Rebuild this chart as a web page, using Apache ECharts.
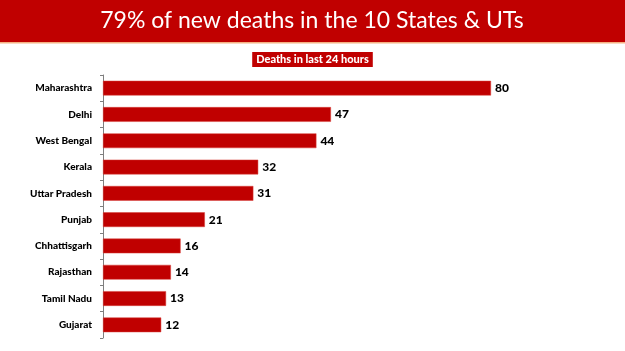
<!DOCTYPE html>
<html lang="en">
<head>
  <meta charset="UTF-8">
  <script src="https://cdn.jsdelivr.net/npm/echarts@6/dist/echarts.min.js"></script>
  <title>Deaths in last 24 hours</title>
  <style>
    html, body { margin: 0; padding: 0; background: #ffffff; }
    #chart { width: 625px; height: 351px; }
  </style>
</head>
<body>
  <div id="chart"></div>
<script>
  // 数据
  const states = ['Maharashtra', 'Delhi', 'West Bengal', 'Kerala', 'Uttar Pradesh',
    'Punjab', 'Chhattisgarh', 'Rajasthan', 'Tamil Nadu', 'Gujarat'];
  const deaths = [80, 47, 44, 32, 31, 21, 16, 14, 13, 12];

  const chart = echarts.init(document.getElementById('chart'));

  const option = {
    animation: false,
    backgroundColor: '#ffffff',
    graphic: [
      { type: 'rect', shape: { x: 0, y: 0, width: 625, height: 42 }, style: { fill: '#c00000' } },
      { type: 'rect', shape: { x: 0, y: 42, width: 625, height: 1.5 }, style: { fill: '#f4b183' } },
      {
        type: 'text', x: 312, y: 21,
        style: {
          text: '79% of new deaths in the 10 States & UTs',
          fill: '#ffffff', font: '23px Lato', align: 'center', verticalAlign: 'middle'
        }
      }
    ],
    title: {
      text: 'Deaths in last 24 hours',
      left: 'center',
      top: 52,
      padding: [2, 4],
      backgroundColor: '#c00000',
      textStyle: { color: '#ffffff', fontSize: 11, fontWeight: 900, fontFamily: 'Lato' }
    },
    grid: { left: 103, top: 75, width: 485, bottom: 13, containLabel: false },
    xAxis: {
      type: 'value', min: 0, max: 100, show: false
    },
    yAxis: {
      type: 'category',
      data: states,
      inverse: true,
      axisLine: { show: true, lineStyle: { color: '#7f7f7f', width: 1 } },
      axisTick: { show: true, length: 3, lineStyle: { color: '#7f7f7f' } },
      axisLabel: {
        margin: 11, color: '#000000', fontSize: 10, fontWeight: 900, fontFamily: 'Lato'
      }
    },
    series: [{
      type: 'bar',
      data: deaths,
      barCategoryGap: '44%',
      itemStyle: { color: '#c00000', borderColor: '#d9403a', borderWidth: 0.5 },
      label: {
        show: true, position: 'right', distance: 4,
        color: '#000000', fontSize: 12, fontWeight: 900, fontFamily: 'Lato'
      }
    }]
  };
  chart.setOption(option);
</script>
</body>
</html>
